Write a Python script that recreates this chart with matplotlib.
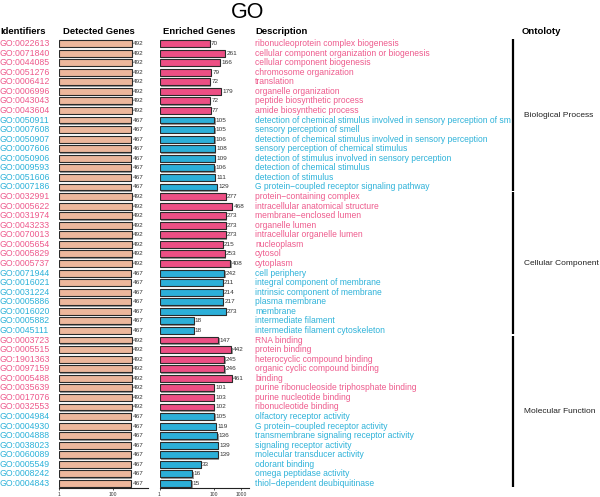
import matplotlib
matplotlib.use("Agg")
import matplotlib.pyplot as plt
import matplotlib.patheffects as pe
import numpy as np

plt.rcParams['font.family'] = ['Liberation Sans', 'DejaVu Sans']

# ---------------- data ----------------
ids = [
    "GO:0022613", "GO:0071840", "GO:0044085", "GO:0051276", "GO:0006412", "GO:0006996",
    "GO:0043043", "GO:0043604", "GO:0050911", "GO:0007608", "GO:0050907", "GO:0007606",
    "GO:0050906", "GO:0009593", "GO:0051606", "GO:0007186",
    "GO:0032991", "GO:0005622", "GO:0031974", "GO:0043233", "GO:0070013", "GO:0005654",
    "GO:0005829", "GO:0005737", "GO:0071944", "GO:0016021", "GO:0031224", "GO:0005886",
    "GO:0016020", "GO:0005882", "GO:0045111",
    "GO:0003723", "GO:0005515", "GO:1901363", "GO:0097159", "GO:0005488", "GO:0035639",
    "GO:0017076", "GO:0032553", "GO:0004984", "GO:0004930", "GO:0004888", "GO:0038023",
    "GO:0060089", "GO:0005549", "GO:0008242", "GO:0004843",
]
descriptions = [
    "ribonucleoprotein complex biogenesis",
    "cellular component organization or biogenesis",
    "cellular component biogenesis",
    "chromosome organization",
    "translation",
    "organelle organization",
    "peptide biosynthetic process",
    "amide biosynthetic process",
    "detection of chemical stimulus involved in sensory perception of smell",
    "sensory perception of smell",
    "detection of chemical stimulus involved in sensory perception",
    "sensory perception of chemical stimulus",
    "detection of stimulus involved in sensory perception",
    "detection of chemical stimulus",
    "detection of stimulus",
    "G protein\u2212coupled receptor signaling pathway",
    "protein\u2212containing complex",
    "intracellular anatomical structure",
    "membrane\u2212enclosed lumen",
    "organelle lumen",
    "intracellular organelle lumen",
    "nucleoplasm",
    "cytosol",
    "cytoplasm",
    "cell periphery",
    "integral component of membrane",
    "intrinsic component of membrane",
    "plasma membrane",
    "membrane",
    "intermediate filament",
    "intermediate filament cytoskeleton",
    "RNA binding",
    "protein binding",
    "heterocyclic compound binding",
    "organic cyclic compound binding",
    "binding",
    "purine ribonucleoside triphosphate binding",
    "purine nucleotide binding",
    "ribonucleotide binding",
    "olfactory receptor activity",
    "G protein\u2212coupled receptor activity",
    "transmembrane signaling receptor activity",
    "signaling receptor activity",
    "molecular transducer activity",
    "odorant binding",
    "omega peptidase activity",
    "thiol\u2212dependent deubiquitinase",
]
direction = (["up"] * 8 + ["down"] * 8 +
             ["up"] * 8 + ["down"] * 7 +
             ["up"] * 8 + ["down"] * 8)
detected = [492 if d == "up" else 467 for d in direction]
enriched = [70, 261, 166, 79, 72, 179, 72, 77, 105, 105, 106, 108, 109, 106, 111, 129,
            277, 468, 273, 273, 273, 215, 253, 408, 242, 211, 214, 217, 273, 18, 18,
            147, 442, 245, 246, 461, 101, 103, 102, 105, 119, 136, 139, 139, 33, 16, 15]
ontology_names = ["Biological Process", "Cellular Component", "Molecular Function"]
ontology_sizes = [16, 15, 16]

# ---------------- styles ----------------
W, H = 600, 497
PINK_TXT = "#EE5A8C"
BLUE_TXT = "#2DB2D9"
PINK_BAR = "#EC4F84"
BLUE_BAR = "#2CAFD8"
PEACH = "#EDB79C"
txt_col = {"up": PINK_TXT, "down": BLUE_TXT}
bar_col = {"up": PINK_BAR, "down": BLUE_BAR}

n = len(ids)
row0, rowN = 43.5, 483.5
step = (rowN - row0) / (n - 1)
top_px = row0 - step / 2
bot_px = rowN + step / 2

fig = plt.figure(figsize=(W / 100, H / 100), dpi=100)


def px_axes(x0, x1, y0=top_px, y1=bot_px):
    return fig.add_axes([x0 / W, 1 - y1 / H, (x1 - x0) / W, (y1 - y0) / H])


ypos = np.arange(n)
shadow = [pe.SimplePatchShadow(offset=(1.0, -1.0), shadow_rgbFace="#9a9a9a", alpha=1.0), pe.Normal()]


def bar_panel(x0, x1, values, colors, ticks):
    ax = px_axes(x0, x1)
    bars = ax.barh(ypos, [v - 1 for v in values], left=1, height=0.72, color=colors,
                   edgecolor="#2a2a2a", linewidth=0.8)
    for b in bars:
        b.set_path_effects(shadow)
    ax.set_xscale("log")
    ax.set_xlim(1, 2000)
    ax.set_ylim(n - 0.5, -0.5)
    for y, v in zip(ypos, values):
        ax.text(v * 1.13, y, str(v), fontsize=4.6, color="#333333", va="center", ha="left")
    for s in ["top", "right", "left"]:
        ax.spines[s].set_visible(False)
    ax.spines["bottom"].set_linewidth(0.8)
    ax.spines["bottom"].set_color("#222222")
    ax.set_yticks([])
    ax.set_xticks(ticks)
    ax.set_xticklabels([str(t) for t in ticks])
    ax.xaxis.set_minor_locator(matplotlib.ticker.NullLocator())
    ax.tick_params(axis="x", labelsize=3.6, length=1.6, width=0.6, pad=0.8, colors="#333333")
    ax.patch.set_alpha(0)
    return ax


bar_panel(59, 148, detected, [PEACH] * n, [1, 100])
bar_panel(159.5, 249, enriched, [bar_col[d] for d in direction], [1, 100, 1000])

# identifiers
ax_id = px_axes(0, 55)
ax_id.set_xlim(0, 1)
ax_id.set_ylim(n - 0.5, -0.5)
ax_id.axis("off")
for y, t, d in zip(ypos, ids, direction):
    ax_id.text(0, y, t, fontsize=6.3, color=txt_col[d], va="center", ha="left")

# descriptions (clipped)
ax_de = px_axes(254, 511)
ax_de.set_xlim(0, 1)
ax_de.set_ylim(n - 0.5, -0.5)
ax_de.axis("off")
for y, t, d in zip(ypos, descriptions, direction):
    ax_de.text(0.004, y, t, fontsize=6.15, color=txt_col[d], va="center", ha="left", clip_on=True)

# ontology brackets
ax_on = px_axes(505, 600)
ax_on.set_xlim(0, 1)
ax_on.set_ylim(n - 0.5, -0.5)
ax_on.axis("off")
start = 0
xline = (513 - 505) / 95
for name, size in zip(ontology_names, ontology_sizes):
    a, b = start - 0.5 + 0.05, start + size - 0.5 - 0.12
    ax_on.plot([xline, xline], [a, b], color="black", lw=1.6, solid_capstyle="butt")
    ax_on.text((524 - 505) / 95, start + (size - 1) / 2, name, fontsize=6.0, color="#222222",
               va="center", ha="left")
    start += size

# headers
hy = 1 - 31 / H
fig.text(0 / W, hy, "Identifiers", fontsize=6.8, fontweight="bold", va="center", ha="left")
fig.text(63 / W, hy, "Detected Genes", fontsize=6.8, fontweight="bold", va="center", ha="left")
fig.text(163 / W, hy, "Enriched Genes", fontsize=6.8, fontweight="bold", va="center", ha="left")
fig.text(255 / W, hy, "Description", fontsize=6.8, fontweight="bold", va="center", ha="left")
fig.text(522 / W, hy, "Ontoloty", fontsize=6.8, fontweight="bold", va="center", ha="left")
fig.text(248 / W, 1 - 12 / H, "GO", fontsize=15.5, va="center", ha="center")

fig.savefig("out.png", dpi=100)
